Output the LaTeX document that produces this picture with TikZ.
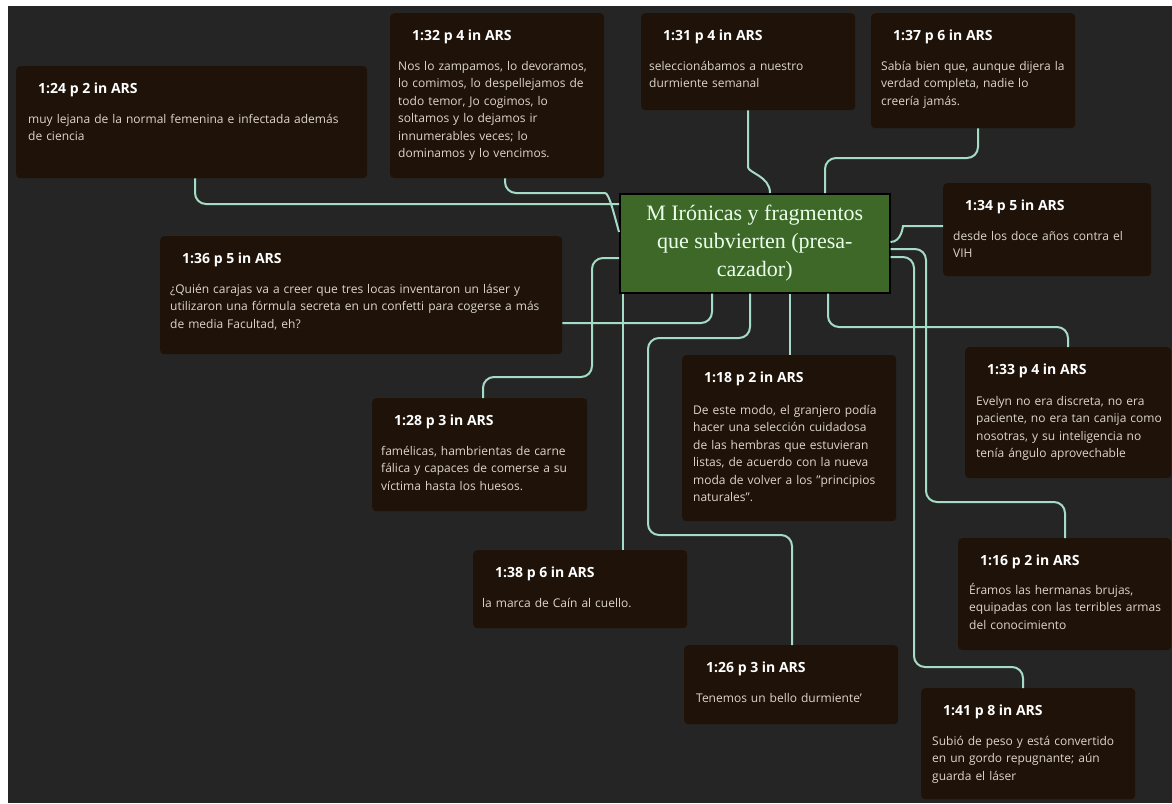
\documentclass[tikz,border=0pt]{standalone}
\usepackage{fontspec}
\setmainfont{Open Sans}
\newfontfamily\hubfont{Liberation Serif}
\definecolor{canvas}{HTML}{252525}
\definecolor{boxbrown}{HTML}{1E1209}
\definecolor{mint}{HTML}{A4DCC5}
\definecolor{hubgreen}{HTML}{3D6828}
\definecolor{quotetext}{HTML}{DED6CA}
\tikzset{
  quote/.style={fill=boxbrown, rounded corners=4pt, anchor=north west, inner sep=0pt},
  qtitle/.style={anchor=base west, inner sep=0pt, text=white, font=\bfseries\fontsize{14}{16}\selectfont},
  qbody/.style={anchor=base west, inner sep=0pt, text width=390pt, align=left, text=quotetext,
    font=\fontsize{12}{17.5}\selectfont},
  hub/.style={draw=black, line width=1.5pt, fill=hubgreen, anchor=north west, align=center, text=white!92!green,
    font=\hubfont\fontsize{22}{28}\selectfont},
  link/.style={draw=mint, line width=2pt, rounded corners=11pt},
}
\begin{document}
\begin{tikzpicture}[x=1pt,y=-1pt]
        \useasboundingbox (0,0) rectangle (1172,803);
        \fill[white] (0,0) rectangle (1172,803);
        \fill[canvas] (8,6) rectangle (1172,803);

        % quote boxes: name/x/y/width/height/page
        \foreach \nm/\px/\py/\w/\h/\pg in {24/16/66/351/112/2, 32/390/13/214/165/4, 31/641/13/214/97/4,
            37/871/13/204/115/6, 34/943/183/208/93/5, 36/160/236/402/118/5, 28/372/398/215/113/3,
            18/682/355/214/166/2, 33/965/347/206/131/4, 16/958/538/213/112/2, 38/473/550/214/78/6,
            26/684/645/214/79/3, 41/921/688/214/111/8}{
          \node[quote, minimum width=\w pt, minimum height=\h pt] (q\nm) at (\px,\py) {};
          \node[qtitle] (t\nm) at ([shift={(22pt,-27pt)}]q\nm.north west) {1:\nm{} p \pg{} in ARS};
        }

        \node[qbody] (b24) at ([shift={(12pt,-57pt)}]q24.north west) {muy lejana de la normal femenina e infectada además\\de ciencia};
        \node[qbody] (b32) at ([shift={(8pt,-57pt)}]q32.north west) {Nos lo zampamos, lo devoramos,\\lo comimos, lo despellejamos de\\todo temor, Jo cogimos, lo\\soltamos y lo dejamos ir\\innumerables veces; lo\\dominamos y lo vencimos.};
        \node[qbody] (b31) at ([shift={(8pt,-57pt)}]q31.north west) {seleccionábamos a nuestro\\durmiente semanal};
        \node[qbody] (b37) at ([shift={(10pt,-57pt)}]q37.north west) {Sabía bien que, aunque dijera la\\verdad completa, nadie lo\\creería jamás.};
        \node[qbody] (b34) at ([shift={(10pt,-57pt)}]q34.north west) {desde los doce años contra el\\VIH};
        \node[qbody] (b36) at ([shift={(10pt,-57pt)}]q36.north west) {¿Quién carajas va a creer que tres locas inventaron un láser y\\utilizaron una fórmula secreta en un confetti para cogerse a más\\de media Facultad, eh?};
        \node[qbody] (b28) at ([shift={(9pt,-57pt)}]q28.north west) {famélicas, hambrientas de carne\\fálica y capaces de comerse a su\\víctima hasta los huesos.};
        \node[qbody] (b18) at ([shift={(11pt,-59pt)}]q18.north west) {De este modo, el granjero podía\\hacer una selección cuidadosa\\de las hembras que estuvieran\\listas, de acuerdo con la nueva\\moda de volver a los "principios\\naturales".};
        \node[qbody] (b33) at ([shift={(11pt,-58pt)}]q33.north west) {Evelyn no era discreta, no era\\paciente, no era tan canija como\\nosotras, y su inteligencia no\\tenía ángulo aprovechable};
        \node[qbody] (b16) at ([shift={(11pt,-56pt)}]q16.north west) {Éramos las hermanas brujas,\\equipadas con las terribles armas\\del conocimiento};
        \node[qbody] (b38) at ([shift={(9pt,-57pt)}]q38.north west) {la marca de Caín al cuello.};
        \node[qbody] (b26) at ([shift={(12pt,-57pt)}]q26.north west) {Tenemos un bello durmiente'};
        \node[qbody] (b41) at ([shift={(11pt,-57pt)}]q41.north west) {Subió de peso y está convertido\\en un gordo repugnante; aún\\guarda el láser};

        \node[hub, minimum width=270pt, minimum height=99pt] (ctr) at (619,193) {M Irónicas y fragmentos\\que subvierten (presa-\\cazador)};

        % links to the hub
        \draw[link] (195,0 |- q24.south) |- (ctr.west |- 0,204);
        \draw[link] (505,0 |- q32.south) |- (594,193) .. controls (609,193) and (614,214) .. (ctr.west |- 0,232);
        \draw[link] (748,0 |- q31.south) -- (748,156) to[out=-90,in=90] (770,0 |- ctr.north);
        \draw[link] (978,0 |- q37.south) |- (825,158) -- (825,0 |- ctr.north);
        \draw[link] (q34.west |- 0,226) -- (914,226) to[out=180,in=0] (ctr.east |- 0,242);
        \draw[link] (ctr.east |- 0,249) -| (926,502) -| (1065,0 |- q16.north);
        \draw[link] (ctr.east |- 0,257) -| (914,667) -| (1023,0 |- q41.north);
        \draw[link] (828,0 |- ctr.south) |- (1068,327) -- (1068,0 |- q33.north);
        \draw[link] (q36.east |- 0,323) -| (712,0 |- ctr.south);
        \draw[link] (483,0 |- q28.north) |- (592,377) |- (ctr.west |- 0,258);
        \draw[link] (623,0 |- ctr.south) -- (623,0 |- q38.north);
        \draw[link] (790,0 |- ctr.south) -- (790,0 |- q18.north);
        \draw[link] (750,0 |- ctr.south) |- (648,338) |- (792,535) -- (792,0 |- q26.north);

      \end{tikzpicture}
\end{document}
